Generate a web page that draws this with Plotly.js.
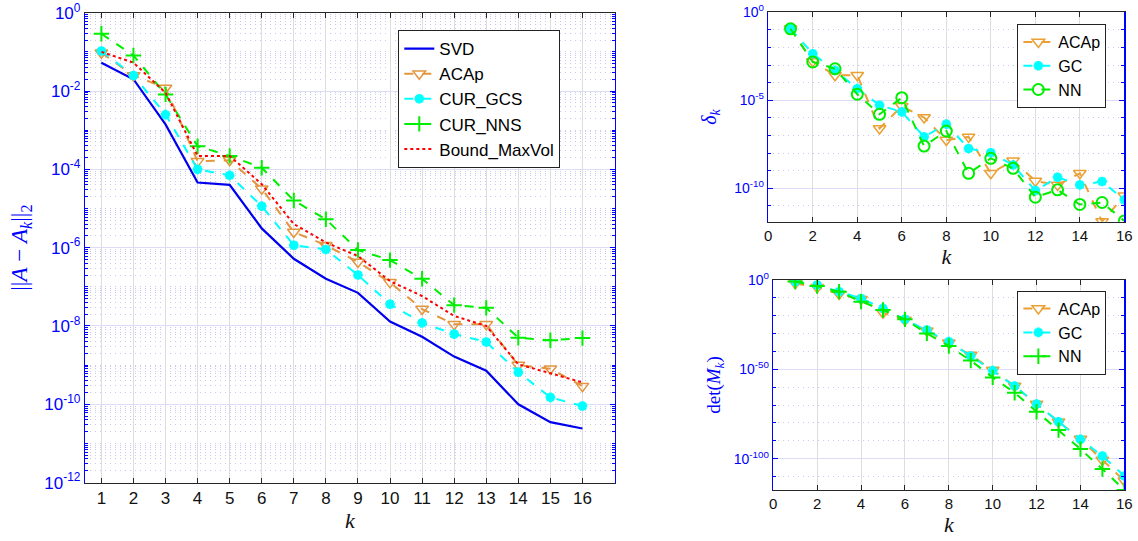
<!DOCTYPE html>
<html>
<head>
<meta charset="utf-8">
<script src="https://cdn.plot.ly/plotly-3.0.1.min.js"></script>
<style>html,body{margin:0;padding:0;background:#fff;}#chart{width:1138px;height:541px;}</style>
</head>
<body>
<div id="chart"></div>
<script>
// ---------- data: left panel ||A - A_k||_2 ----------
const kValues = [1,2,3,4,5,6,7,8,9,10,11,12,13,14,15,16];
const errSVD = [5.3e-2, 2.0e-2, 1.4e-3, 4.6e-5, 4.0e-5, 3.1e-6, 5.2e-7, 1.6e-7, 7.0e-8, 1.3e-8, 5.3e-9, 1.65e-9, 7.2e-10, 1.0e-10, 3.5e-11, 2.4e-11];
const errACAp = [9.5e-2, 2.5e-2, 1.2e-2, 1.6e-4, 1.7e-4, 3.2e-5, 2.5e-6, 1.15e-6, 4.3e-7, 1.3e-7, 2.7e-8, 1.1e-8, 1.1e-8, 1.0e-9, 8.1e-10, 2.9e-10];
const errGCS = [1.05e-1, 2.5e-2, 2.5e-3, 1.0e-4, 7.0e-5, 1.15e-5, 1.15e-6, 9.0e-7, 2.0e-7, 3.6e-8, 1.2e-8, 6.2e-9, 3.9e-9, 6.6e-10, 1.5e-10, 9.0e-11];
const errNNS = [2.9e-1, 8.1e-2, 8.2e-3, 3.9e-4, 2.2e-4, 1.1e-4, 1.6e-5, 5.3e-6, 8.7e-7, 4.8e-7, 1.6e-7, 3.4e-8, 2.9e-8, 5.0e-9, 4.3e-9, 4.9e-9];
const errBound = [1.0e-1, 5.3e-2, 9.0e-3, 2.2e-4, 2.2e-4, 4.2e-5, 4.0e-6, 1.35e-6, 6.1e-7, 1.4e-7, 5.8e-8, 1.8e-8, 1.0e-8, 1.05e-9, 6.2e-10, 3.6e-10];
const leftTickVals = [1, 1e-2, 1e-4, 1e-6, 1e-8, 1e-10, 1e-12];
const leftTickText = ['10<sup>0</sup>','10<sup>-2</sup>','10<sup>-4</sup>','10<sup>-6</sup>','10<sup>-8</sup>','10<sup>-10</sup>','10<sup>-12</sup>'];

// ---------- data: top right delta_k ----------
const deltaACAp = [0.115, 1.62e-3, 2.63e-4, 2.63e-4, 2.5e-7, 4.6e-6, 1.05e-6, 5.5e-8, 8.3e-8, 7.1e-10, 3.7e-9, 2.6e-10, 1.55e-10, 7.1e-10, 1.3e-12, 3.7e-11];
const deltaGC = [0.115, 4.4e-3, 5.0e-4, 4.6e-5, 5.2e-6, 2.2e-6, 8.3e-8, 4.4e-7, 1.8e-8, 1.05e-8, 2.1e-9, 7.4e-11, 4.2e-10, 1.55e-10, 2.4e-10, 2.2e-11];
const deltaNN = [0.115, 1.5e-3, 6.2e-4, 2.2e-5, 1.6e-6, 1.4e-5, 2.5e-8, 1.8e-7, 7.1e-10, 5.0e-9, 1.35e-9, 3.1e-11, 8.1e-11, 1.2e-11, 1.55e-11, 1.4e-12];
const deltaTickVals = [1, 1e-5, 1e-10];
const deltaTickText = ['10<sup>0</sup>','10<sup>-5</sup>','10<sup>-10</sup>'];

// ---------- data: bottom right det(M_k) ----------
const detACAp = [1.3e-2, 7.9e-5, 1.6e-8, 1.6e-11, 5e-19, 4e-23, 4e-29, 8e-36, 1e-42, 4e-51, 5e-60, 4e-70, 5e-80, 1e-89, 2e-101, 5e-113];
const detGC = [1.3e-1, 1.6e-3, 3.2e-7, 5e-11, 1.3e-16, 1e-22, 1e-28, 3.2e-35, 3.2e-43, 2e-51, 5e-60, 4e-70, 5e-80, 6.3e-90, 3.2e-99, 2e-110];
const detNN = [1.3e-1, 4e-4, 3.2e-7, 8e-13, 1.6e-17, 1e-22, 1.3e-30, 1.3e-37, 8e-46, 3.2e-55, 8e-64, 2e-74, 1e-84, 2.5e-95, 1.6e-106, 3.2e-118];
const detTickVals = [1, 1e-50, 1e-100];
const detTickText = ['10<sup>0</sup>','10<sup>-50</sup>','10<sup>-100</sup>'];

const rightXTicks = [0,2,4,6,8,10,12,14,16];

// ---------- styles ----------
const BLUE = '#0000FF';
const ORANGE = '#E3963E';
const GOLD = '#EBA033';
const CYAN = '#00FFFF';
const GREEN = '#00EE00';
const RED = '#FF0000';
const MAJOR_GRID = '#DCDCF6';
const MINOR_GRID = '#C8C8F0';
const VGRID = '#DDDDDD';
const AXDARK = '#262626';
const sans = 'Liberation Sans, Arial, sans-serif';
const serif = 'Liberation Serif, DejaVu Serif, serif';

const traces = [
  {x: kValues, y: errSVD, name: 'SVD', type: 'scatter', mode: 'lines',
   line: {color: '#0000EE', width: 2.2}, xaxis: 'x', yaxis: 'y', legend: 'legend'},
  {x: kValues, y: errACAp, name: 'ACAp', type: 'scatter', mode: 'lines+markers',
   line: {color: ORANGE, width: 2, dash: 'dash'},
   marker: {symbol: 'triangle-down-open', size: 11, color: ORANGE, line: {width: 1.5}},
   xaxis: 'x', yaxis: 'y', legend: 'legend'},
  {x: kValues, y: errGCS, name: 'CUR_GCS', type: 'scatter', mode: 'lines+markers',
   line: {color: CYAN, width: 2, dash: 'dash'},
   marker: {symbol: 'asterisk-open', size: 8, color: CYAN, line: {width: 3, color: CYAN}},
   xaxis: 'x', yaxis: 'y', legend: 'legend'},
  {x: kValues, y: errNNS, name: 'CUR_NNS', type: 'scatter', mode: 'lines+markers',
   line: {color: GREEN, width: 2, dash: 'dash'},
   marker: {symbol: 'cross-thin-open', size: 11, color: GREEN, line: {width: 2, color: GREEN}},
   xaxis: 'x', yaxis: 'y', legend: 'legend'},
  {x: kValues, y: errBound, name: 'Bound_MaxVol', type: 'scatter', mode: 'lines',
   line: {color: RED, width: 2, dash: 'dot'}, xaxis: 'x', yaxis: 'y', legend: 'legend'},

  {x: kValues, y: deltaACAp, name: 'ACAp', type: 'scatter', mode: 'lines+markers',
   line: {color: GOLD, width: 2, dash: 'dash'},
   marker: {symbol: 'triangle-down-open', size: 11, color: GOLD, line: {width: 1.5}},
   xaxis: 'x2', yaxis: 'y2', legend: 'legend2'},
  {x: kValues, y: deltaGC, name: 'GC', type: 'scatter', mode: 'lines+markers',
   line: {color: CYAN, width: 2, dash: 'dash'},
   marker: {symbol: 'asterisk-open', size: 8, color: CYAN, line: {width: 3, color: CYAN}},
   xaxis: 'x2', yaxis: 'y2', legend: 'legend2'},
  {x: kValues, y: deltaNN, name: 'NN', type: 'scatter', mode: 'lines+markers',
   line: {color: GREEN, width: 2, dash: 'dash'},
   marker: {symbol: 'circle-open', size: 11, color: GREEN, line: {width: 2}},
   xaxis: 'x2', yaxis: 'y2', legend: 'legend2'},

  {x: kValues, y: detACAp, name: 'ACAp', type: 'scatter', mode: 'lines+markers',
   line: {color: GOLD, width: 2, dash: 'dash'},
   marker: {symbol: 'triangle-down-open', size: 11, color: GOLD, line: {width: 1.5}},
   xaxis: 'x3', yaxis: 'y3', legend: 'legend3'},
  {x: kValues, y: detGC, name: 'GC', type: 'scatter', mode: 'lines+markers',
   line: {color: CYAN, width: 2, dash: 'dash'},
   marker: {symbol: 'asterisk-open', size: 8, color: CYAN, line: {width: 3, color: CYAN}},
   xaxis: 'x3', yaxis: 'y3', legend: 'legend3'},
  {x: kValues, y: detNN, name: 'NN', type: 'scatter', mode: 'lines+markers',
   line: {color: GREEN, width: 2, dash: 'dash'},
   marker: {symbol: 'cross-thin-open', size: 11, color: GREEN, line: {width: 2, color: GREEN}},
   xaxis: 'x3', yaxis: 'y3', legend: 'legend3'}
];

function xAxis(domain, anchor, range, tickvals, titleStandoff) {
  return {
    domain: domain, anchor: anchor, range: range, type: 'linear',
    tickmode: 'array', tickvals: tickvals,
    ticks: 'inside', ticklen: 5, tickcolor: AXDARK, tickwidth: 1,
    showline: true, linecolor: AXDARK, linewidth: 1.2, mirror: 'allticks',
    showgrid: true, gridcolor: VGRID, gridwidth: 1, zeroline: false,
    tickfont: {family: sans, size: 15, color: '#111'},
    title: {text: '<i>k</i>', font: {family: serif, size: 22, color: '#111'}, standoff: titleStandoff}
  };
}
function yAxis(domain, anchor, range, tickvals, ticktext, minorDtick, title, tfSize, titleSize, standoff) {
  return {
    domain: domain, anchor: anchor, type: 'log', range: range,
    tickmode: 'array', tickvals: tickvals, ticktext: ticktext,
    ticks: 'inside', ticklen: 5, tickcolor: BLUE, tickwidth: 1,
    showline: true, linecolor: BLUE, linewidth: 1.5, mirror: 'allticks',
    showgrid: true, gridcolor: MAJOR_GRID, gridwidth: 1, zeroline: false,
    minor: {dtick: minorDtick, ticks: 'inside', ticklen: 3, tickcolor: BLUE,
            showgrid: true, gridcolor: MINOR_GRID, griddash: '1px,4px', gridwidth: 1},
    tickfont: {family: sans, size: tfSize, color: BLUE},
    title: {text: title, font: {family: serif, size: titleSize, color: BLUE}, standoff: standoff}
  };
}

const layout = {
  width: 1138, height: 541,
  margin: {l: 0, r: 0, t: 0, b: 0},
  paper_bgcolor: '#fff', plot_bgcolor: '#fff',
  xaxis: Object.assign(xAxis([0.075, 0.540], 'y', [0.5, 17], kValues, 4), {tickfont: {family: sans, size: 17, color: '#111'}}),
  yaxis: yAxis([0.108, 0.9765], 'x', [-12, 0], leftTickVals, leftTickText, 'D1',
               '||<i>A</i> − <i>A<sub>k</sub></i>||<sub>2</sub>', 17, 23, 10),
  xaxis2: xAxis([0.6751, 0.9880], 'y2', [0, 16], rightXTicks, 2),
  yaxis2: yAxis([0.5902, 0.9773], 'x2', [-11.9, 0], deltaTickVals, deltaTickText, 1,
                '<i>δ<sub>k</sub></i>', 14, 20, 12),
  xaxis3: xAxis([0.6795, 0.9880], 'y3', [0, 16], rightXTicks, 2),
  yaxis3: yAxis([0.0943, 0.4824], 'x3', [-117.5, 0], detTickVals, detTickText, 10,
                'det(<i>M<sub>k</sub></i>)', 14, 19, 8),
  legend: {x: 0.350, y: 0.9445, xanchor: 'left', yanchor: 'top',
           bgcolor: '#fff', bordercolor: '#222', borderwidth: 1,
           font: {family: sans, size: 17, color: '#000'}, tracegroupgap: 0},
  legend2: {x: 0.894, y: 0.9556, xanchor: 'left', yanchor: 'top',
            bgcolor: '#fff', bordercolor: '#222', borderwidth: 1,
            font: {family: sans, size: 16, color: '#000'}},
  legend3: {x: 0.894, y: 0.4627, xanchor: 'left', yanchor: 'top',
            bgcolor: '#fff', bordercolor: '#222', borderwidth: 1,
            font: {family: sans, size: 16, color: '#000'}},
  showlegend: true
};

Plotly.newPlot('chart', traces, layout, {displayModeBar: false, staticPlot: true});
</script>
</body>
</html>
